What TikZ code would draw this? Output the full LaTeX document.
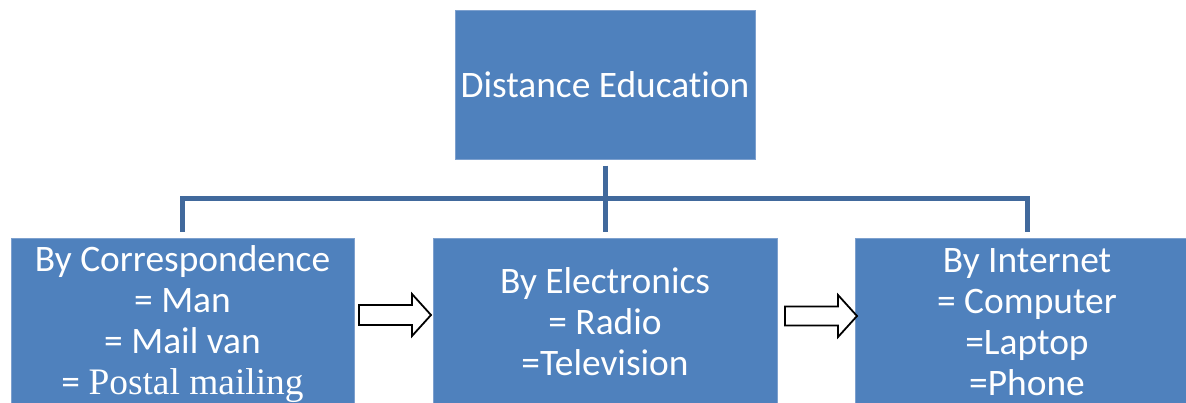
\documentclass[tikz,border=0pt]{standalone}
\usepackage{fontspec}
\setmainfont{Carlito}[Ligatures={NoCommon}]
\newfontfamily\serifpart{Liberation Serif}
\definecolor{boxfill}{RGB}{79,129,189}
\definecolor{boxedge}{RGB}{125,160,206}
\definecolor{connblue}{RGB}{65,105,156}
\tikzset{
  box/.style={draw=boxedge, line width=1pt, fill=boxfill, inner sep=0pt},
  boxtext/.style={text=white, align=center, inner sep=0pt, anchor=north,
    font=\fontsize{37.4}{41}\selectfont},
  conn/.style={draw=connblue, line width=5pt},
  blockarrow/.style={draw=black, line width=1.8pt, fill=white, line join=miter}
}
\begin{document}
\begin{tikzpicture}[x=1pt,y=-1pt]
\path[use as bounding box] (0,0) rectangle (1186,402);
\clip (0,0) rectangle (1186,402);
% top box
\node[box, minimum width=300pt, minimum height=149pt, text=white,
  font=\fontsize{37.4}{41}\selectfont] (top) at (605,84.5) {Distance Education};
% bottom boxes
\node[box, minimum width=343pt, minimum height=182pt] (L) at (182.5,329) {};
\node[box, minimum width=344pt, minimum height=182pt] (M) at (605,329) {};
\node[box, minimum width=344pt, minimum height=182pt] (R) at (1027,329) {};
% texts
\node[boxtext] (Lt) at (182.5,242.3) {\strut By Correspondence\\= Man\\= Mail van\\= {\serifpart Postal mailing}};
\node[boxtext] (Mt) at (605,264.3) {\strut By Electronics\\= Radio\\=Television};
\node[boxtext] (Rt) at (1027,243.3) {\strut By Internet\\= Computer\\=Laptop\\=Phone};
% connectors
\draw[conn] ([yshift=6pt]L.north) -- ([yshift=39pt]L.north) -| ([yshift=6pt]R.north);
\draw[conn] ([yshift=-6pt]top.south) -- ([yshift=6pt]M.north);
% block arrows
\draw[blockarrow] (359,305) -- (412,305) -- (412,294) -- (431,315) -- (412,336) -- (412,325) -- (359,325) -- cycle;
\draw[blockarrow] (785,306.5) -- (838,306.5) -- (838,295) -- (857,316) -- (838,337) -- (838,325.5) -- (785,325.5) -- cycle;
\end{tikzpicture}
\end{document}
